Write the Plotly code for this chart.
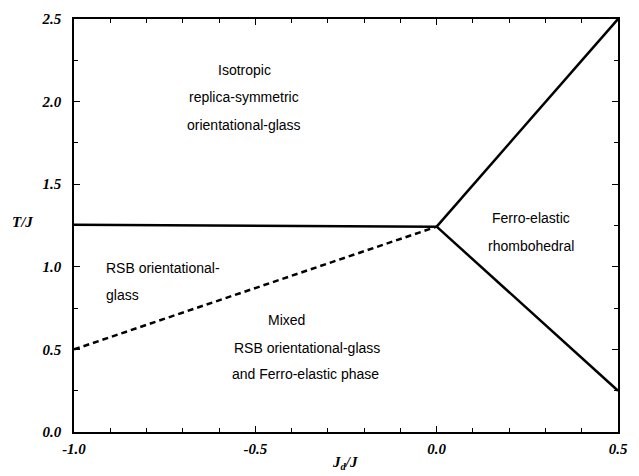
import plotly.graph_objects as go

# Phase boundaries (x = J_d/J, y = T/J)
horiz_x = [-1.0, 0.0]
horiz_y = [1.255, 1.243]
dashed_x = [-1.0, 0.0]
dashed_y = [0.50, 1.243]
upper_x = [0.0, 0.5]
upper_y = [1.243, 2.5]
lower_x = [0.0, 0.5]
lower_y = [1.243, 0.25]

x_ticks = [-1.0, -0.5, 0.0, 0.5]
x_ticklabels = ["-1.0", "-0.5", "0.0", "0.5"]
y_ticks = [0.0, 0.5, 1.0, 1.5, 2.0, 2.5]
y_ticklabels = ["0.0", "0.5", "1.0", "1.5", "2.0", "2.5"]

# Region labels: (text, x, y, anchor)
labels = [
    ("Isotropic", -0.53, 2.19, "center"),
    ("replica-symmetric", -0.53, 2.03, "center"),
    ("orientational-glass", -0.53, 1.86, "center"),
    ("RSB orientational-", -0.918, 0.99, "left"),
    ("glass", -0.918, 0.83, "left"),
    ("Mixed", -0.414, 0.677, "center"),
    ("RSB orientational-glass", -0.564, 0.511, "left"),
    ("and Ferro-elastic phase", -0.569, 0.35, "left"),
    ("Ferro-elastic", 0.26, 1.295, "center"),
    ("rhombohedral", 0.26, 1.128, "center"),
]

fig = go.Figure()
line_style = dict(color="black", width=2.5)
fig.add_trace(go.Scatter(x=horiz_x, y=horiz_y, mode="lines", line=line_style, cliponaxis=False))
fig.add_trace(go.Scatter(x=dashed_x, y=dashed_y, mode="lines",
                         line=dict(color="black", width=2.5, dash="6px,4px"), cliponaxis=False))
fig.add_trace(go.Scatter(x=upper_x, y=upper_y, mode="lines", line=line_style, cliponaxis=False))
fig.add_trace(go.Scatter(x=lower_x, y=lower_y, mode="lines", line=line_style, cliponaxis=False))

for text, x, y, anchor in labels:
    fig.add_annotation(x=x, y=y, text=text, showarrow=False, xanchor=anchor, yanchor="middle",
                       font=dict(family="Liberation Sans", size=14, color="black"))

fig.add_annotation(xref="paper", x=-0.0945, y=1.27, text="<i>T/J</i>", showarrow=False,
                   xanchor="center", yanchor="middle",
                   font=dict(family="Liberation Serif", size=15, color="black", weight="bold"))
fig.add_annotation(x=-0.253, yref="paper", y=-0.076, text="<i>J<sub>d</sub>/J</i>", showarrow=False,
                   xanchor="center", yanchor="middle",
                   font=dict(family="Liberation Serif", size=15, color="black", weight="bold"))

tickfont = dict(family="Liberation Serif", size=15, color="black", style="italic", weight="bold")
fig.update_xaxes(range=[-1.0, 0.5], tickvals=x_ticks, ticktext=x_ticklabels,
                 ticks="inside", ticklen=6, tickwidth=1.2, tickcolor="black",
                 minor=dict(dtick=0.1, ticks="inside", ticklen=4, tickwidth=1, tickcolor="black"),
                 showline=True, linecolor="black", linewidth=1.5, mirror="allticks",
                 showgrid=False, zeroline=False, tickfont=tickfont, ticklabelstandoff=2)
fig.update_yaxes(range=[0.0, 2.5], tickvals=y_ticks, ticktext=y_ticklabels,
                 ticks="inside", ticklen=6, tickwidth=1.2, tickcolor="black",
                 minor=dict(dtick=0.25, ticks="inside", ticklen=4, tickwidth=1, tickcolor="black"),
                 showline=True, linecolor="black", linewidth=1.5, mirror="allticks",
                 showgrid=False, zeroline=False, tickfont=tickfont, ticklabelstandoff=8)

fig.update_layout(width=639, height=476, margin=dict(l=74, r=15, t=11, b=44),
                  plot_bgcolor="white", paper_bgcolor="white", showlegend=False)

fig.write_html("out.html")
